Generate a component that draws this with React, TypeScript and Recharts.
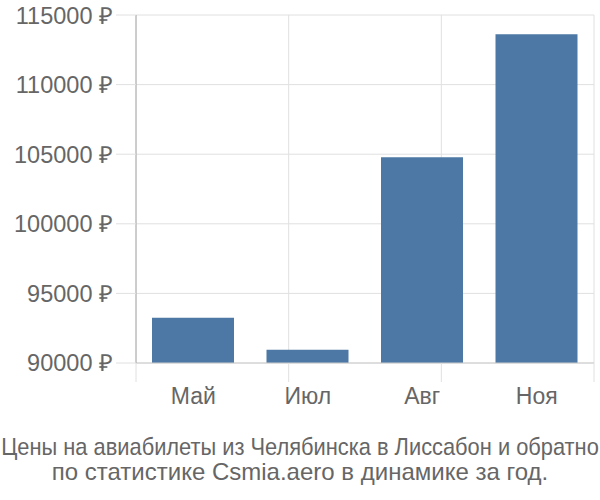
import { BarChart, Bar, XAxis, YAxis, CartesianGrid } from 'recharts'

const months = ['Май', 'Июл', 'Авг', 'Ноя']
const prices = [93250, 90950, 104780, 113620]
const priceTicks = [90000, 95000, 100000, 105000, 110000, 115000]
const bandEdges = [0, 1, 2, 3, 4]
const titleLines = [
  'Цены на авиабилеты из Челябинска в Лиссабон и обратно',
  'по статистике Csmia.aero в динамике за год.',
]
// the first line is squeezed to fit the width, the second is natural
const titleSqueeze = [0.91, 1]

const rows = months.map((m, i) => ({ month: m, price: prices[i] }))

const textColor = '#666'
const gridColor = '#e0e0e0'

export default function App() {
  return (
    <div style={{ position: 'absolute', left: 0, top: 0, width: 600, height: 500, background: '#fff', fontFamily: '"Liberation Sans", Arial, sans-serif' }}>
      <BarChart
        width={600}
        height={430}
        data={rows}
        margin={{ top: 15, right: 6, bottom: 0, left: 0 }}
      >
        <CartesianGrid xAxisId={0} stroke={gridColor} />
        {/* band edges: drives the vertical grid and the short ticks under the axis */}
        <XAxis
          xAxisId={0}
          type="number"
          domain={[0, 4]}
          ticks={bandEdges}
          height={1}
          axisLine={{ stroke: '#ccc' }}
          tickSize={19}
          tickLine={{ stroke: gridColor }}
          tickFormatter={() => ''}
        />
        <XAxis
          xAxisId={1}
          dataKey="month"
          height={66}
          axisLine={false}
          tickLine={false}
          tickSize={6}
          tickMargin={18}
          tick={{ fill: textColor, fontSize: 23 }}
        />
        <YAxis
          width={136}
          domain={[90000, 115000]}
          ticks={priceTicks}
          allowDataOverflow
          axisLine={{ stroke: '#aaa' }}
          tickLine={{ stroke: gridColor }}
          tickSize={20}
          tickMargin={3}
          tick={{ fill: textColor, fontSize: 23.5 }}
          tickFormatter={(v: number) => `${v} ₽`}
        />
        <Bar xAxisId={1} dataKey="price" fill="#4d78a5" barSize={82} isAnimationActive={false} />
      </BarChart>
      <svg width={600} height={70} style={{ position: 'absolute', left: 0, top: 430 }}>
        {titleLines.map((l, i) => (
          <g key={l} transform={`scale(${titleSqueeze[i]} 1)`} fill={textColor} fontSize={24} textAnchor="middle">
            <text x={300 / titleSqueeze[i]} y={25 + i * 25}>{l}</text>
          </g>
        ))}
      </svg>
    </div>
  )
}
